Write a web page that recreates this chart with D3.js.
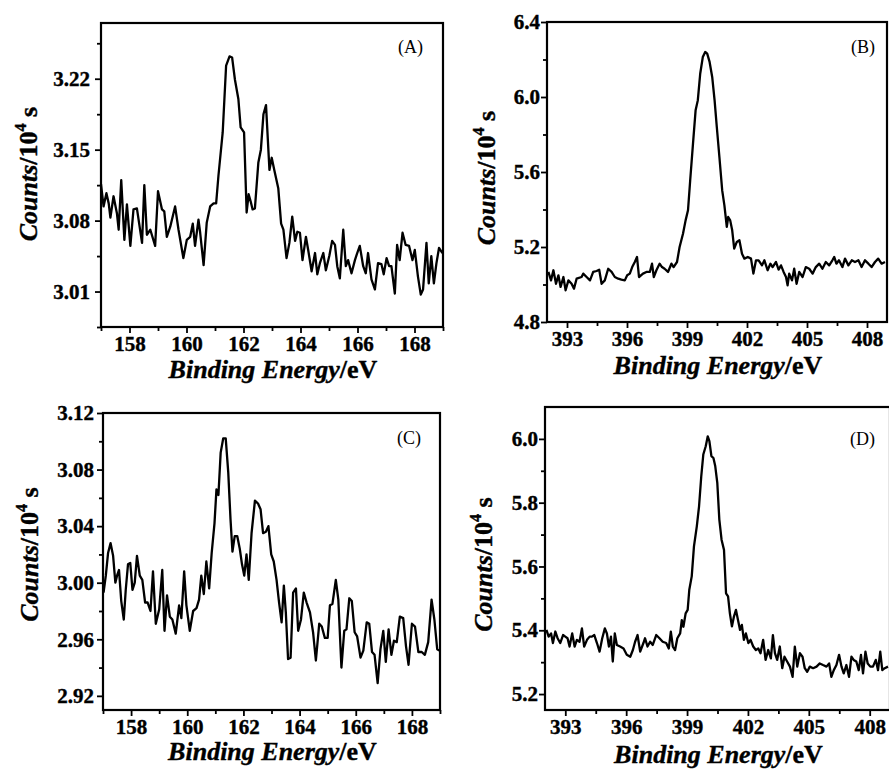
<!DOCTYPE html>
<html>
<head>
<meta charset="utf-8">
<script src="https://cdn.jsdelivr.net/npm/d3@7"></script>
<style>
  body { margin: 0; background: #fff; }
  svg { display: block; }
  text { font-family: "Liberation Serif", "Times New Roman", "DejaVu Serif", serif; }
</style>
</head>
<body>
<div id="chart"></div>
<script>
// --- panel A: S 2p (157-169 eV)
const aEnergy = [157.00,157.09,157.19,157.27,157.33,157.44,157.56,157.62,157.71,157.82,157.91,158.03,158.14,158.26,158.44,158.52,158.61,158.73,158.90,159.00,159.14,159.22,159.31,159.43,159.60,159.72,159.89,160.01,160.13,160.22,160.30,160.42,160.48,160.60,160.71,160.83,160.95,161.04,161.12,161.27,161.39,161.51,161.60,161.70,161.82,161.90,162.02,162.11,162.18,162.25,162.32,162.40,162.52,162.61,162.70,162.79,162.91,162.99,163.08,163.22,163.32,163.40,163.51,163.61,163.71,163.81,163.89,163.98,164.07,164.19,164.27,164.39,164.51,164.59,164.68,164.80,164.89,165.01,165.11,165.21,165.29,165.38,165.50,165.59,165.67,165.79,165.91,165.99,166.08,166.20,166.29,166.37,166.49,166.61,166.72,166.84,166.92,167.02,167.11,167.19,167.31,167.39,167.48,167.58,167.69,167.81,167.93,168.01,168.12,168.22,168.30,168.42,168.50,168.59,168.68,168.77,168.86,168.98];
const aCounts = [3.116,3.094,3.107,3.097,3.083,3.104,3.087,3.071,3.120,3.061,3.096,3.055,3.091,3.092,3.058,3.115,3.066,3.071,3.055,3.109,3.091,3.089,3.064,3.074,3.094,3.071,3.043,3.061,3.064,3.077,3.055,3.081,3.068,3.036,3.078,3.094,3.097,3.097,3.124,3.167,3.233,3.242,3.241,3.219,3.200,3.172,3.167,3.088,3.106,3.099,3.091,3.092,3.137,3.150,3.185,3.194,3.130,3.142,3.130,3.112,3.077,3.071,3.043,3.058,3.084,3.060,3.069,3.068,3.041,3.064,3.051,3.030,3.048,3.027,3.038,3.048,3.031,3.045,3.060,3.056,3.035,3.023,3.071,3.035,3.041,3.028,3.041,3.048,3.055,3.035,3.028,3.048,3.022,3.012,3.038,3.037,3.027,3.043,3.035,3.035,3.008,3.056,3.041,3.068,3.056,3.055,3.041,3.051,3.025,3.007,3.012,3.058,3.018,3.045,3.018,3.038,3.053,3.048];
const aYTicks = [3.01, 3.08, 3.15, 3.22];
const aYMinor = [2.975, 3.045, 3.115, 3.185, 3.255];

// --- panel B: N 1s (392-409 eV)
const bEnergy = [392.07,392.20,392.32,392.45,392.57,392.68,392.82,392.93,393.07,393.23,393.35,393.48,393.73,393.81,393.98,394.15,394.31,394.48,394.61,394.73,394.89,395.06,395.23,395.39,395.56,395.72,395.89,396.01,396.14,396.26,396.39,396.50,396.60,396.80,396.97,397.14,397.25,397.34,397.47,397.63,397.75,397.88,398.05,398.22,398.33,398.50,398.63,398.80,398.93,399.05,399.16,399.30,399.43,399.54,399.66,399.79,399.91,400.01,400.13,400.26,400.38,400.49,400.62,400.76,400.87,400.99,401.06,401.16,401.26,401.36,401.49,401.62,401.75,401.87,402.04,402.20,402.32,402.45,402.58,402.75,402.87,403.03,403.17,403.28,403.45,403.58,403.70,403.83,403.95,404.03,404.11,404.25,404.36,404.48,404.61,404.78,404.94,405.11,405.28,405.44,405.61,405.77,405.94,406.11,406.27,406.36,406.47,406.60,406.77,406.90,407.07,407.24,407.40,407.57,407.73,407.90,408.07,408.23,408.40,408.56,408.73,408.90];
const bCounts = [5.067,5.022,5.076,5.004,5.049,4.987,5.040,4.969,5.022,5.004,4.978,5.031,5.040,5.058,5.040,5.022,5.067,5.072,5.079,5.004,5.022,5.084,5.067,5.040,5.031,5.026,5.022,5.049,5.058,5.093,5.120,5.147,5.040,5.058,5.067,5.067,5.111,5.040,5.076,5.111,5.093,5.084,5.067,5.111,5.093,5.120,5.200,5.271,5.342,5.396,5.556,5.751,5.929,5.982,6.124,6.213,6.240,6.231,6.187,6.107,5.982,5.840,5.680,5.502,5.422,5.307,5.360,5.342,5.289,5.191,5.227,5.236,5.164,5.138,5.147,5.138,5.058,5.129,5.129,5.102,5.129,5.076,5.111,5.093,5.120,5.079,5.102,5.067,5.040,4.996,5.058,5.022,5.084,5.004,5.067,5.040,5.093,5.084,5.058,5.093,5.111,5.084,5.120,5.102,5.129,5.147,5.111,5.129,5.093,5.138,5.102,5.129,5.120,5.129,5.093,5.129,5.111,5.093,5.120,5.138,5.111,5.120];
const bYTicks = [4.8, 5.2, 5.6, 6.0, 6.4];
const bYMinor = [5.0, 5.4, 5.8, 6.2];

// --- panel C: S 2p (157-169 eV)
const cEnergy = [157.02,157.10,157.18,157.27,157.36,157.44,157.50,157.57,157.65,157.74,157.81,157.89,157.97,158.05,158.13,158.21,158.31,158.40,158.50,158.59,158.69,158.78,158.88,159.00,159.11,159.19,159.28,159.38,159.47,159.59,159.71,159.79,159.89,159.97,160.09,160.21,160.33,160.42,160.50,160.59,160.68,160.78,160.87,160.97,161.04,161.11,161.19,161.28,161.37,161.46,161.54,161.61,161.69,161.78,161.87,161.95,162.03,162.11,162.19,162.29,162.41,162.52,162.61,162.70,162.80,162.89,162.99,163.08,163.18,163.27,163.36,163.44,163.51,163.59,163.68,163.77,163.87,163.95,164.05,164.15,164.25,164.37,164.48,164.58,164.70,164.79,164.90,165.00,165.08,165.17,165.29,165.38,165.49,165.59,165.67,165.77,165.86,165.96,166.05,166.17,166.27,166.39,166.48,166.58,166.67,166.78,166.88,166.98,167.07,167.17,167.27,167.36,167.46,167.57,167.69,167.79,167.88,168.00,168.11,168.23,168.35,168.46,168.58,168.70,168.80,168.90,168.98];
const cCounts = [2.993,3.005,3.021,3.028,3.019,3.000,3.005,3.009,2.987,2.974,2.995,3.013,3.014,2.995,3.000,3.019,3.005,3.002,2.986,2.986,2.980,3.008,2.971,2.981,3.009,2.966,2.991,2.976,2.974,2.964,2.984,2.975,3.008,2.984,2.966,2.980,2.982,2.988,3.005,2.992,3.015,2.996,3.021,3.042,3.066,3.062,3.092,3.102,3.102,3.078,3.045,3.022,3.033,3.033,3.024,3.013,3.005,3.020,3.002,3.035,3.058,3.056,3.052,3.035,3.036,3.040,3.020,3.015,3.002,2.986,2.972,2.998,2.979,2.946,2.947,2.993,2.996,2.966,2.974,2.993,2.986,2.979,2.965,2.945,2.971,2.969,2.961,2.961,2.984,2.985,3.002,2.988,2.940,2.966,2.967,2.989,2.987,2.965,2.962,2.947,2.952,2.972,2.971,2.951,2.949,2.929,2.953,2.966,2.944,2.967,2.949,2.959,2.958,2.976,2.975,2.955,2.942,2.971,2.969,2.951,2.951,2.949,2.958,2.988,2.974,2.953,2.952];
const cYTicks = [2.92, 2.96, 3.00, 3.04, 3.08, 3.12];
const cYMinor = [2.94, 2.98, 3.02, 3.06, 3.10];

// --- panel D: N 1s (392-409 eV)
const dEnergy = [392.07,392.18,392.30,392.39,392.51,392.62,392.75,392.89,393.00,393.11,393.21,393.34,393.46,393.57,393.70,393.82,393.93,394.07,394.20,394.31,394.43,394.56,394.69,394.82,394.95,395.05,395.15,395.25,395.34,395.44,395.54,395.70,395.87,396.03,396.20,396.33,396.44,396.56,396.69,396.85,396.93,397.05,397.18,397.31,397.48,397.64,397.80,397.97,398.10,398.20,398.30,398.41,398.52,398.66,398.74,398.82,398.93,399.03,399.11,399.23,399.34,399.48,399.59,399.70,399.80,399.92,400.02,400.10,400.20,400.30,400.39,400.49,400.59,400.70,400.82,400.92,401.02,401.11,401.21,401.31,401.41,401.51,401.61,401.70,401.80,401.90,402.02,402.13,402.26,402.39,402.51,402.62,402.75,402.87,403.00,403.13,403.23,403.33,403.44,403.57,403.69,403.80,403.93,404.07,404.20,404.31,404.43,404.56,404.69,404.80,404.92,405.05,405.21,405.38,405.54,405.70,405.87,406.00,406.11,406.23,406.36,406.49,406.61,406.72,406.85,406.98,407.10,407.21,407.34,407.46,407.57,407.67,407.79,407.90,408.03,408.16,408.30,408.41,408.52,408.62,408.74,408.90];
const dCounts = [5.401,5.380,5.390,5.360,5.396,5.375,5.360,5.385,5.380,5.375,5.349,5.390,5.349,5.370,5.364,5.406,5.349,5.370,5.380,5.380,5.385,5.360,5.333,5.375,5.406,5.390,5.349,5.380,5.302,5.390,5.354,5.349,5.343,5.323,5.317,5.338,5.364,5.385,5.333,5.360,5.375,5.349,5.364,5.354,5.385,5.375,5.364,5.360,5.343,5.396,5.349,5.338,5.375,5.390,5.432,5.411,5.453,5.464,5.527,5.569,5.663,5.726,5.788,5.883,5.951,5.977,6.008,5.993,5.946,5.940,5.914,5.862,5.747,5.684,5.652,5.516,5.506,5.453,5.412,5.443,5.464,5.432,5.401,5.417,5.370,5.390,5.360,5.370,5.349,5.338,5.343,5.328,5.370,5.307,5.338,5.312,5.385,5.328,5.307,5.349,5.281,5.317,5.302,5.286,5.254,5.349,5.286,5.328,5.317,5.281,5.270,5.286,5.281,5.286,5.296,5.291,5.286,5.296,5.254,5.275,5.291,5.323,5.286,5.265,5.291,5.254,5.317,5.307,5.302,5.275,5.323,5.265,5.333,5.296,5.286,5.286,5.307,5.275,5.333,5.275,5.281,5.286];
const dYTicks = [5.2, 5.4, 5.6, 5.8, 6.0];
const dYMinor = [5.3, 5.5, 5.7, 5.9];

// shared x ticks
const sXTicks = [158, 160, 162, 164, 166, 168];
const sXMinor = [157, 159, 161, 163, 165, 167, 169];
const nXTicks = [393, 396, 399, 402, 405, 408];
const nXMinor = [394.5, 397.5, 400.5, 403.5, 406.5];

const W = 889, H = 769;
const FONT = '"Liberation Serif", "Times New Roman", "DejaVu Serif", serif';

const svg = d3.select("#chart")
  .append("svg")
  .attr("width", W)
  .attr("height", H);

function drawPanel(p) {
  const x = d3.scaleLinear().domain(p.xDomain).range([p.left, p.right]);
  const y = d3.scaleLinear().domain(p.yDomain).range([p.bottom, p.top]);
  const g = svg.append("g");

  // data line
  const line = d3.line().x((d, i) => x(p.energy[i])).y(d => y(d));
  g.append("path")
    .datum(p.counts)
    .attr("d", line)
    .attr("fill", "none")
    .attr("stroke", "#000")
    .attr("stroke-width", 2.3)
    .attr("stroke-linejoin", "round");

  // minor ticks
  g.append("g")
    .attr("transform", "translate(0," + p.bottom + ")")
    .call(d3.axisBottom(x).tickValues(p.xMinor).tickSize(4).tickFormat(""))
    .call(a => a.select(".domain").remove());
  g.append("g")
    .attr("transform", "translate(" + p.left + ",0)")
    .call(d3.axisLeft(y).tickValues(p.yMinor).tickSize(4).tickFormat(""))
    .call(a => a.select(".domain").remove());

  // major ticks + labels
  const xa = g.append("g")
    .attr("transform", "translate(0," + p.bottom + ")")
    .call(d3.axisBottom(x).tickValues(p.xTicks).tickSize(6).tickPadding(3).tickFormat(d3.format("d")));
  const ya = g.append("g")
    .attr("transform", "translate(" + p.left + ",0)")
    .call(d3.axisLeft(y).tickValues(p.yTicks).tickSize(6).tickPadding(p.yPad).tickFormat(d3.format(p.yFormat)));
  [xa, ya].forEach(a => {
    a.select(".domain").remove();
    a.selectAll("text")
      .style("font-family", FONT)
      .style("font-size", "21px")
      .style("font-weight", "bold")
      .attr("fill", "#000")
      .attr("stroke", "#000")
      .attr("stroke-width", 0.4);
  });
  g.selectAll(".tick line").attr("stroke", "#000").attr("stroke-width", 1.8);

  // frame
  g.append("rect")
    .attr("x", p.left).attr("y", p.top)
    .attr("width", p.right - p.left).attr("height", p.bottom - p.top)
    .attr("fill", "none").attr("stroke", "#000").attr("stroke-width", 2.2);

  // panel tag
  g.append("text")
    .attr("x", p.right - p.tagInset).attr("y", p.top + p.tagDrop)
    .attr("text-anchor", "end")
    .style("font-size", "18px")
    .text(p.tag);

  // x title
  const xt = g.append("text")
    .attr("x", (p.left + p.right) / 2 + 1)
    .attr("y", p.bottom + p.xTitleDrop)
    .attr("text-anchor", "middle")
    .attr("stroke", "#000").attr("stroke-width", 0.4)
    .style("font-size", "26px")
    .style("font-weight", "bold");
  xt.append("tspan").style("font-style", "italic").text("Binding Energy");
  xt.append("tspan").text("/eV");

  // y title
  const yt = g.append("text")
    .attr("transform", "translate(" + p.yTitleX + "," + ((p.top + p.bottom) / 2 + p.yTitleShift) + ") rotate(-90)")
    .attr("text-anchor", "middle")
    .attr("stroke", "#000").attr("stroke-width", 0.4)
    .style("font-size", "26px")
    .style("font-weight", "bold");
  yt.append("tspan").style("font-style", "italic").text("Counts");
  yt.append("tspan").text("/10");
  yt.append("tspan").attr("dy", -11).style("font-size", "16px").text("4");
  yt.append("tspan").attr("dy", 11).text("\u00a0s");
}

drawPanel({
  energy: aEnergy, counts: aCounts, tag: "(A)",
  xDomain: [157, 169], yDomain: [2.975, 3.275],
  xTicks: sXTicks, xMinor: sXMinor, yTicks: aYTicks, yMinor: aYMinor, yFormat: ".2f", yPad: 5,
  left: 101, right: 443, top: 23, bottom: 327,
  tagInset: 20, tagDrop: 30, xTitleDrop: 51, yTitleX: 37, yTitleShift: -1
});
drawPanel({
  energy: bEnergy, counts: bCounts, tag: "(B)",
  xDomain: [392, 409], yDomain: [4.8, 6.4],
  xTicks: nXTicks, xMinor: nXMinor, yTicks: bYTicks, yMinor: bYMinor, yFormat: ".1f", yPad: 1,
  left: 547, right: 887, top: 22, bottom: 322,
  tagInset: 12, tagDrop: 31, xTitleDrop: 52, yTitleX: 495, yTitleShift: 6
});
drawPanel({
  energy: cEnergy, counts: cCounts, tag: "(C)",
  xDomain: [157, 169], yDomain: [2.91, 3.12],
  xTicks: sXTicks, xMinor: sXMinor, yTicks: cYTicks, yMinor: cYMinor, yFormat: ".2f", yPad: 3,
  left: 103, right: 440, top: 413, bottom: 710,
  tagInset: 19, tagDrop: 31, xTitleDrop: 50, yTitleX: 38, yTitleShift: -7
});
drawPanel({
  energy: dEnergy, counts: dCounts, tag: "(D)",
  xDomain: [392, 409], yDomain: [5.15, 6.1],
  xTicks: nXTicks, xMinor: nXMinor, yTicks: dYTicks, yMinor: dYMinor, yFormat: ".1f", yPad: 1,
  left: 545, right: 890, top: 407, bottom: 710,
  tagInset: 15, tagDrop: 38, xTitleDrop: 53, yTitleX: 492, yTitleShift: 6
});
</script>
</body>
</html>
